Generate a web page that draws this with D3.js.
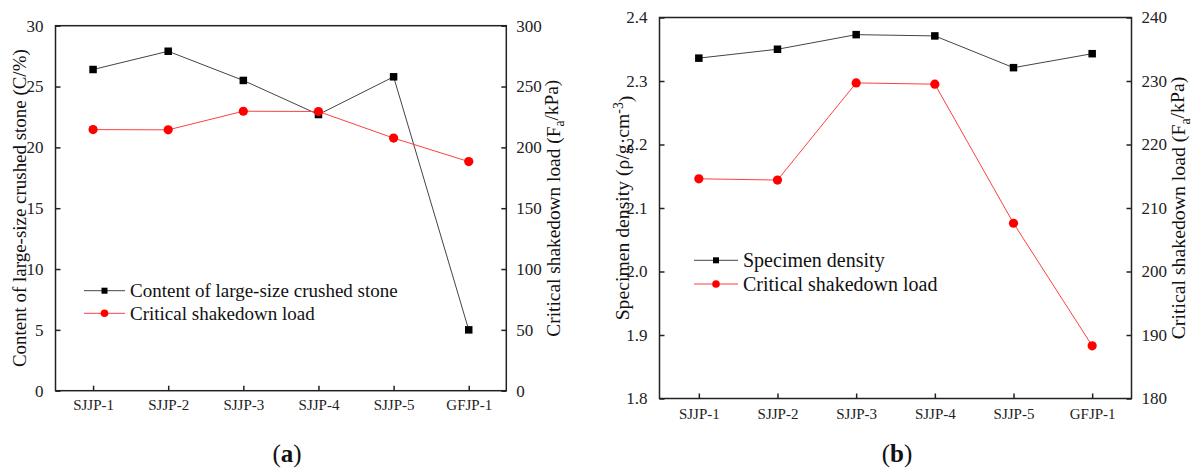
<!DOCTYPE html>
<html>
<head>
<meta charset="utf-8">
<script src="https://cdn.jsdelivr.net/npm/d3@7"></script>
<style>
  html, body { margin: 0; padding: 0; background: #fff; }
  svg { display: block; }
  .tick-label { font-family: "Liberation Serif", "Times New Roman", serif; fill: #222; }
  .legend-text { font-family: "Liberation Serif", "Times New Roman", serif; fill: #111; }
  .axis-title { font-family: "Liberation Serif", "Times New Roman", serif; fill: #111; }
  .caption { font-family: "Liberation Serif", "Times New Roman", serif; fill: #111; }
</style>
</head>
<body>
<svg id="chart" width="1193" height="474"></svg>
<script>
// Specimen groups on the x axis
const samples = ["SJJP-1", "SJJP-2", "SJJP-3", "SJJP-4", "SJJP-5", "GFJP-1"];
// Content of large-size crushed stone, C (%)
const crushedStoneContent = [26.4, 27.9, 25.5, 22.7, 25.8, 5.0];
// Critical shakedown load, Fa (kPa)
const shakedownLoad = [214.6, 214.4, 229.7, 229.5, 207.6, 188.3];
// Specimen density, rho (g/cm^3)
const specimenDensity = [2.336, 2.350, 2.373, 2.371, 2.321, 2.343];

// Axis tick values
const contentTicks = [0, 5, 10, 15, 20, 25, 30];
const loadTicksA = [0, 50, 100, 150, 200, 250, 300];
const densityTicks = [1.8, 1.9, 2.0, 2.1, 2.2, 2.3, 2.4];
const loadTicksB = [180, 190, 200, 210, 220, 230, 240];

const svg = d3.select("#chart");

// size a title so that it spans the given length
function fitText(sel, length) {
  const base = 20;
  sel.style("font-size", base + "px");
  const w = sel.node().getComputedTextLength();
  sel.style("font-size", (base * length / w).toFixed(2) + "px");
}

function drawPanel(p) {
  const g = svg.append("g");
  const x = d3.scalePoint().domain(samples).range([p.left, p.right]).padding(0.5);
  const yL = d3.scaleLinear().domain(p.leftDomain).range([p.bottom, p.top]);
  const yR = d3.scaleLinear().domain(p.rightDomain).range([p.bottom, p.top]);

  // frame
  g.append("rect")
    .attr("x", p.left).attr("y", p.top)
    .attr("width", p.right - p.left).attr("height", p.bottom - p.top)
    .attr("fill", "none").attr("stroke", "#222").attr("stroke-width", 1.5);

  const tickLen = 5;

  const leftAxis = d3.axisLeft(yL).tickValues(p.leftTicks).tickSize(-tickLen).tickPadding(tickLen + 7)
    .tickFormat(p.leftFormat);
  const la = g.append("g").attr("transform", `translate(${p.left},0)`).call(leftAxis);
  const rightAxis = d3.axisRight(yR).tickValues(p.rightTicks).tickSize(-tickLen).tickPadding(tickLen + 5)
    .tickFormat(p.rightFormat);
  const ra = g.append("g").attr("transform", `translate(${p.right},0)`).call(rightAxis);
  const bottomAxis = d3.axisBottom(x).tickSize(-tickLen).tickPadding(tickLen + p.xPad);
  const ba = g.append("g").attr("transform", `translate(0,${p.bottom})`).call(bottomAxis);

  [la, ra, ba].forEach(a => {
    a.select(".domain").remove();
    a.selectAll(".tick line").attr("stroke", "#222").attr("stroke-width", 1.5);
    a.selectAll(".tick text").attr("class", "tick-label").attr("fill", "#222");
  });
  la.selectAll(".tick text").style("font-size", p.tickFont + "px");
  ra.selectAll(".tick text").style("font-size", p.tickFont + "px");
  ba.selectAll(".tick text").style("font-size", p.xFont + "px");

  const lineL = d3.line().x((d, i) => x(samples[i])).y(d => yL(d));
  const lineR = d3.line().x((d, i) => x(samples[i])).y(d => yR(d));

  // black series on the left axis, red series on the right axis
  g.append("path").datum(p.leftSeries).attr("d", lineL)
    .attr("fill", "none").attr("stroke", "#444").attr("stroke-width", 1);
  g.append("path").datum(shakedownLoad).attr("d", lineR)
    .attr("fill", "none").attr("stroke", "#ff4040").attr("stroke-width", 1);

  const sq = p.square;
  g.selectAll(".sq").data(p.leftSeries).enter().append("rect")
    .attr("x", (d, i) => x(samples[i]) - sq / 2).attr("y", d => yL(d) - sq / 2)
    .attr("width", sq).attr("height", sq).attr("fill", "#000");
  g.selectAll(".dot").data(shakedownLoad).enter().append("circle")
    .attr("cx", (d, i) => x(samples[i])).attr("cy", d => yR(d))
    .attr("r", p.radius).attr("fill", "#ff0000");

  // legend
  const lg = g.append("g");
  const items = [
    { label: p.legendBlack, color: "#444", marker: "square" },
    { label: "Critical shakedown load", color: "#ff4040", marker: "circle" }
  ];
  items.forEach((it, i) => {
    const yy = p.legendY + i * p.legendGap;
    lg.append("line").attr("x1", p.legendX1).attr("x2", p.legendX2)
      .attr("y1", yy).attr("y2", yy).attr("stroke", it.color).attr("stroke-width", 1);
    const mx = (p.legendX1 + p.legendX2) / 2;
    if (it.marker === "square") {
      lg.append("rect").attr("x", mx - 3).attr("y", yy - 3).attr("width", 6).attr("height", 6).attr("fill", "#000");
    } else {
      lg.append("circle").attr("cx", mx).attr("cy", yy).attr("r", 3.8).attr("fill", "#ff0000");
    }
    lg.append("text").attr("class", "legend-text")
      .attr("x", p.legendX2 + 5).attr("y", yy).attr("dy", "0.35em")
      .style("font-size", p.legendFont + "px").text(it.label);
  });

  // axis titles, centred on the plot height
  const midY = (p.top + p.bottom) / 2;
  const lt = g.append("text").attr("class", "axis-title")
    .attr("transform", `translate(${p.leftTitleX},${midY}) rotate(-90)`)
    .attr("text-anchor", "middle").attr("dy", "0.35em");
  p.leftTitle(lt);
  fitText(lt, p.leftTitleLen);
  const rt = g.append("text").attr("class", "axis-title")
    .attr("transform", `translate(${p.rightTitleX},${midY}) rotate(-90)`)
    .attr("text-anchor", "middle").attr("dy", "0.35em");
  p.rightTitle(rt);
  fitText(rt, p.rightTitleLen);

  // caption
  const cap = g.append("text").attr("class", "caption")
    .attr("x", p.captionX).attr("y", 462).attr("text-anchor", "middle")
    .style("font-size", "25px");
  cap.append("tspan").text("(");
  cap.append("tspan").attr("font-weight", "bold").text(p.caption);
  cap.append("tspan").text(")");
}

function loadTitle(t) {
  t.append("tspan").text("Critical shakedown load (F");
  t.append("tspan").attr("dy", "0.3em").style("font-size", "70%").text("a");
  t.append("tspan").attr("dy", "-0.3em").text("/kPa)");
}

// (a) crushed stone content vs. critical shakedown load
drawPanel({
  left: 55.5, right: 506.3, top: 25.7, bottom: 390.7,
  leftDomain: [0, 30], rightDomain: [0, 300],
  leftTicks: contentTicks, rightTicks: loadTicksA,
  leftFormat: d3.format("d"), rightFormat: d3.format("d"),
  tickFont: 17, xFont: 15, xPad: 4,
  leftSeries: crushedStoneContent,
  square: 7.5, radius: 4.6,
  legendBlack: "Content of large-size crushed stone",
  legendX1: 84, legendX2: 125, legendY: 290.7, legendGap: 22.6, legendFont: 19,
  leftTitle: t => t.text("Content of large-size crushed stone (C/%)"),
  leftTitleX: 19, leftTitleLen: 318,
  rightTitle: loadTitle,
  rightTitleX: 553, rightTitleLen: 257,
  caption: "a", captionX: 287
});

// (b) specimen density vs. critical shakedown load
drawPanel({
  left: 659.5, right: 1131.5, top: 17.5, bottom: 398.5,
  leftDomain: [1.8, 2.4], rightDomain: [180, 240],
  leftTicks: densityTicks, rightTicks: loadTicksB,
  leftFormat: d3.format(".1f"), rightFormat: d3.format("d"),
  tickFont: 17, xFont: 15, xPad: 5,
  leftSeries: specimenDensity,
  square: 7.5, radius: 4.6,
  legendBlack: "Specimen density",
  legendX1: 694, legendX2: 738, legendY: 260.3, legendGap: 23.7, legendFont: 20,
  leftTitle: t => {
    t.append("tspan").text("Specimen density (ρ/g·cm");
    t.append("tspan").attr("dy", "-0.45em").style("font-size", "70%").text("-3");
    t.append("tspan").attr("dy", "0.45em").text(")");
  },
  leftTitleX: 622.5, leftTitleLen: 225,
  rightTitle: loadTitle,
  rightTitleX: 1178.5, rightTitleLen: 263,
  caption: "b", captionX: 897
});
</script>
</body>
</html>
